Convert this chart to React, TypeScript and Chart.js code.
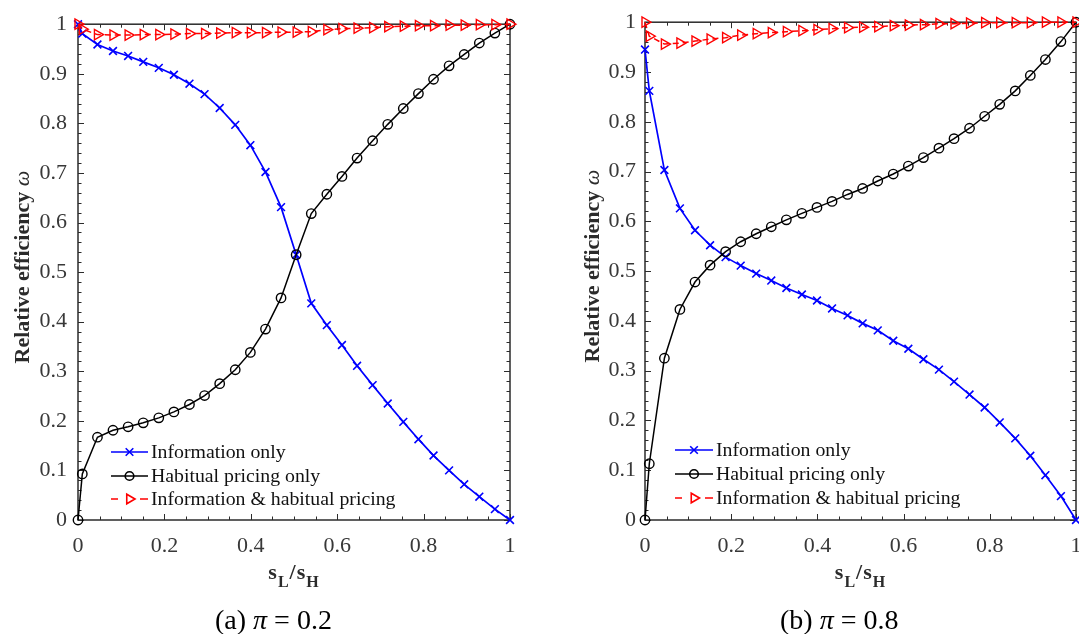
import React, { useEffect, useRef } from "react";
import { Chart, registerables } from "chart.js";

Chart.register(...registerables);

// ---------------- data ----------------
const X_VALUES = [
  0, 0.01, 0.045, 0.081, 0.116, 0.151, 0.187, 0.222, 0.258, 0.293, 0.328, 0.364, 0.399, 0.434, 0.47,
  0.505, 0.54, 0.576, 0.611, 0.646, 0.682, 0.717, 0.753, 0.788, 0.823, 0.859, 0.894, 0.929, 0.965, 1.0,
];

// (a) pi = 0.2
const INFO_A = [
  1.0, 0.981, 0.959, 0.946, 0.936, 0.924, 0.912, 0.898, 0.88, 0.859, 0.831, 0.797, 0.756, 0.702, 0.631,
  0.535, 0.437, 0.393, 0.353, 0.311, 0.272, 0.235, 0.198, 0.163, 0.13, 0.1, 0.072, 0.047, 0.022, 0,
];
const HABIT_A = [
  0, 0.093, 0.167, 0.181, 0.188, 0.196, 0.206, 0.218, 0.233, 0.251, 0.275, 0.303, 0.338, 0.385, 0.448,
  0.535, 0.618, 0.657, 0.693, 0.73, 0.765, 0.798, 0.83, 0.86, 0.889, 0.916, 0.939, 0.962, 0.982, 1.0,
];
const BOTH_A = [
  1.0, 0.99, 0.979, 0.978, 0.978, 0.979, 0.979, 0.98, 0.981, 0.981, 0.982, 0.983, 0.983, 0.983, 0.984,
  0.984, 0.985, 0.989, 0.991, 0.992, 0.993, 0.995, 0.996, 0.997, 0.997, 0.998, 0.998, 0.999, 0.999, 1.0,
];

// (b) pi = 0.8
const INFO_B = [
  0.945, 0.862, 0.703, 0.626, 0.582, 0.552, 0.528, 0.511, 0.495, 0.481, 0.466, 0.453, 0.441, 0.425, 0.411,
  0.395, 0.381, 0.36, 0.344, 0.323, 0.302, 0.278, 0.252, 0.226, 0.196, 0.164, 0.129, 0.09, 0.048, 0,
];
const HABIT_B = [
  0, 0.113, 0.325, 0.423, 0.478, 0.512, 0.539, 0.559, 0.575, 0.589, 0.603, 0.616, 0.628, 0.64, 0.654,
  0.666, 0.681, 0.695, 0.711, 0.728, 0.747, 0.766, 0.787, 0.811, 0.835, 0.862, 0.893, 0.925, 0.961, 1.0,
];
const BOTH_B = [
  1.0, 0.972, 0.956, 0.958, 0.962, 0.966, 0.969, 0.974, 0.977, 0.979, 0.981, 0.983, 0.985, 0.987, 0.989,
  0.99, 0.991, 0.993, 0.994, 0.995, 0.997, 0.997, 0.998, 0.999, 0.999, 0.999, 0.999, 1.0, 1.0, 1.0,
];

const X_TICKS = [0, 0.2, 0.4, 0.6, 0.8, 1];
const Y_TICKS = [0, 0.1, 0.2, 0.3, 0.4, 0.5, 0.6, 0.7, 0.8, 0.9, 1];
const SERIES_LABELS = ["Information only", "Habitual pricing only", "Information & habitual pricing"];
const Y_TITLE = "Relative efficiency ";
const Y_TITLE_SYMBOL = "ω";
const CAPTIONS = [
  { tag: "(a) ", value: "0.2" },
  { tag: "(b) ", value: "0.8" },
];

// ---------------- styles ----------------
const SERIF = "'Liberation Serif', 'Times New Roman', serif";
const AXIS_COLOR = "#2b2b2b";
const TICK_TEXT = "#383838";
const BLUE = "#0000ff";
const BLACK = "#000000";
const RED = "#ff0000";
const H = 634;

function drawMarker(ctx: CanvasRenderingContext2D, kind: string, x: number, y: number, r: number) {
  ctx.beginPath();
  if (kind === "cross") {
    ctx.moveTo(x - r, y - r);
    ctx.lineTo(x + r, y + r);
    ctx.moveTo(x - r, y + r);
    ctx.lineTo(x + r, y - r);
  } else if (kind === "circle") {
    ctx.arc(x, y, r, 0, Math.PI * 2);
  } else {
    ctx.moveTo(x + r, y);
    ctx.lineTo(x - r * 0.5, y - r * 0.87);
    ctx.lineTo(x - r * 0.5, y + r * 0.87);
    ctx.closePath();
  }
  ctx.stroke();
}

const decorPlugin = {
  id: "decor",
  beforeDatasetsDraw(chart: any) {
    const { ctx, chartArea: a, scales } = chart;
    const xs = scales.x;
    const ys = scales.y;
    ctx.save();
    ctx.strokeStyle = AXIS_COLOR;
    ctx.lineWidth = 1.5;
    ctx.strokeRect(a.left, a.top, a.right - a.left, a.bottom - a.top);
    ctx.lineWidth = 1;
    ctx.beginPath();
    for (let i = 0; i <= 20; i++) {
      const v = i * 0.05;
      const len = i % 4 === 0 ? 6 : 3.5;
      const px = Math.round(xs.getPixelForValue(v)) + 0.5;
      ctx.moveTo(px, a.bottom);
      ctx.lineTo(px, a.bottom - len);
      ctx.moveTo(px, a.top);
      ctx.lineTo(px, a.top + len);
    }
    for (let i = 0; i <= 50; i++) {
      const v = i * 0.02;
      const len = i % 5 === 0 ? 6 : 3.5;
      const py = Math.round(ys.getPixelForValue(v)) + 0.5;
      ctx.moveTo(a.left, py);
      ctx.lineTo(a.left + len, py);
      ctx.moveTo(a.right, py);
      ctx.lineTo(a.right - len, py);
    }
    ctx.stroke();
    ctx.restore();
  },
  afterDraw(chart: any, _args: any, opts: any) {
    const { ctx, chartArea: a } = chart;
    ctx.save();
    // legend
    const kinds = [
      { color: BLUE, marker: "cross", r: 3.8, dashed: false },
      { color: BLACK, marker: "circle", r: 4.3, dashed: false },
      { color: RED, marker: "tri", r: 5.5, dashed: true },
    ];
    ctx.font = `19.8px ${SERIF}`;
    ctx.textBaseline = "middle";
    ctx.textAlign = "left";
    kinds.forEach((k, i) => {
      const y = opts.legendRows[i];
      const x0 = opts.legendX0;
      const x1 = opts.legendX1;
      ctx.strokeStyle = k.color;
      ctx.lineWidth = 1.6;
      ctx.beginPath();
      if (k.dashed) {
        ctx.moveTo(x0, y);
        ctx.lineTo(x0 + 7, y);
        ctx.moveTo(x1 - 8, y);
        ctx.lineTo(x1, y);
      } else {
        ctx.moveTo(x0, y);
        ctx.lineTo(x1, y);
      }
      ctx.stroke();
      drawMarker(ctx, k.marker, (x0 + x1) / 2, y, k.r);
      ctx.fillStyle = "#111";
      ctx.fillText(SERIES_LABELS[i], opts.legendTextX, y + 1);
    });

    // y title
    ctx.save();
    ctx.translate(opts.yTitleBaseX, (a.top + a.bottom) / 2 - 5);
    ctx.rotate(-Math.PI / 2);
    ctx.fillStyle = AXIS_COLOR;
    ctx.textBaseline = "alphabetic";
    ctx.font = `bold 22px ${SERIF}`;
    const w1 = ctx.measureText(Y_TITLE).width;
    ctx.font = `italic 22px ${SERIF}`;
    const w2 = ctx.measureText(Y_TITLE_SYMBOL).width;
    const sx = -(w1 + w2) / 2;
    ctx.font = `bold 22px ${SERIF}`;
    ctx.fillText(Y_TITLE, sx, 0);
    ctx.font = `italic 22px ${SERIF}`;
    ctx.fillText(Y_TITLE_SYMBOL, sx + w1, 0);
    ctx.restore();

    // x title  s_L / s_H
    const parts = [
      { t: "s", f: `bold 22px ${SERIF}`, dy: 0 },
      { t: "L", f: `bold 16px ${SERIF}`, dy: 8 },
      { t: "/", f: `bold 22px ${SERIF}`, dy: 0 },
      { t: "s", f: `bold 22px ${SERIF}`, dy: 0 },
      { t: "H", f: `bold 16px ${SERIF}`, dy: 8 },
    ];
    let total = 0;
    const widths = parts.map((p) => {
      ctx.font = p.f;
      const w = ctx.measureText(p.t).width + 1;
      total += w;
      return w;
    });
    let cx = (a.left + a.right) / 2 - total / 2;
    ctx.fillStyle = AXIS_COLOR;
    ctx.textBaseline = "alphabetic";
    parts.forEach((p, i) => {
      ctx.font = p.f;
      ctx.fillText(p.t, cx, 579 + p.dy);
      cx += widths[i];
    });

    // caption
    const cap = opts.caption;
    let x = opts.captionX;
    ctx.fillStyle = "#000";
    ctx.font = `28px ${SERIF}`;
    ctx.fillText(cap.tag, x, 629);
    x += ctx.measureText(cap.tag).width;
    ctx.font = `italic 28px ${SERIF}`;
    ctx.fillText("π", x, 629);
    x += ctx.measureText("π").width;
    ctx.font = `28px ${SERIF}`;
    ctx.fillText(" = " + cap.value, x, 629);
    ctx.restore();
  },
};

type PanelProps = {
  left: number;
  width: number;
  yAxisW: number;
  plotRight: number;
  yTickPad: number;
  info: number[];
  habit: number[];
  both: number[];
  decor: any;
};

function Panel(p: PanelProps) {
  const ref = useRef<HTMLCanvasElement | null>(null);
  useEffect(() => {
    if (!ref.current) return;
    const pts = (arr: number[]) => X_VALUES.map((x, i) => ({ x, y: arr[i] }));
    const chart = new Chart(ref.current, {
      type: "line",
      data: {
        datasets: [
          {
            label: SERIES_LABELS[0],
            data: pts(p.info),
            borderColor: BLUE,
            borderWidth: 1.7,
            pointStyle: "crossRot",
            pointRadius: 5.5,
            pointBorderWidth: 1.6,
            pointBorderColor: BLUE,
            pointBackgroundColor: "rgba(0,0,0,0)",
            tension: 0,
            clip: false,
            order: 3,
          } as any,
          {
            label: SERIES_LABELS[1],
            data: pts(p.habit),
            borderColor: BLACK,
            borderWidth: 1.5,
            pointStyle: "circle",
            pointRadius: 4.7,
            pointBorderWidth: 1.4,
            pointBorderColor: BLACK,
            pointBackgroundColor: "rgba(0,0,0,0)",
            tension: 0,
            clip: false,
            order: 2,
          },
          {
            label: SERIES_LABELS[2],
            data: pts(p.both),
            borderColor: RED,
            borderWidth: 1.5,
            borderDash: [6, 4],
            pointStyle: "triangle",
            rotation: 90,
            pointRadius: 6,
            pointBorderWidth: 1.4,
            pointBorderColor: RED,
            pointBackgroundColor: "rgba(0,0,0,0)",
            tension: 0,
            clip: false,
            order: 1,
          },
        ],
      },
      options: {
        animation: false,
        responsive: false,
        devicePixelRatio: 1,
        layout: { padding: { left: 0, top: 20, right: p.width - p.plotRight, bottom: 0 } },
        plugins: {
          legend: { display: false },
          tooltip: { enabled: false },
          decor: p.decor,
        } as any,
        scales: {
          x: {
            type: "linear",
            min: 0,
            max: 1,
            grid: { display: false, drawTicks: false },
            border: { display: false },
            afterBuildTicks: (s: any) => {
              s.ticks = X_TICKS.map((v) => ({ value: v }));
            },
            afterFit: (s: any) => {
              s.height = H - 520;
            },
            ticks: {
              padding: 13,
              color: TICK_TEXT,
              font: { family: SERIF, size: 22 },
              maxRotation: 0,
              autoSkip: false,
              callback: (v: any) => String(v),
            },
          },
          y: {
            type: "linear",
            min: 0,
            max: 1,
            grid: { display: false, drawTicks: false },
            border: { display: false },
            afterBuildTicks: (s: any) => {
              s.ticks = Y_TICKS.map((v) => ({ value: v }));
            },
            afterFit: (s: any) => {
              s.width = p.yAxisW;
            },
            ticks: {
              padding: p.yTickPad,
              color: TICK_TEXT,
              font: { family: SERIF, size: 22 },
              autoSkip: false,
              callback: (v: any) => String(v),
            },
          },
        },
      },
      plugins: [decorPlugin],
    });
    return () => chart.destroy();
  }, []);
  return (
    <div style={{ position: "absolute", left: p.left, top: 0, width: p.width, height: H }}>
      <canvas ref={ref} width={p.width} height={H} style={{ display: "block" }} />
    </div>
  );
}

export default function App() {
  return (
    <div
      style={{
        position: "fixed",
        left: 0,
        top: 0,
        width: 1079,
        height: H,
        overflow: "hidden",
        background: "#fff",
      }}
    >
      <Panel
        left={0}
        width={560}
        yAxisW={78}
        plotRight={510}
        yTickPad={11}
        info={INFO_A}
        habit={HABIT_A}
        both={BOTH_A}
        decor={{
          legendX0: 111,
          legendX1: 148,
          legendTextX: 151,
          legendRows: [452, 476, 499],
          yTitleBaseX: 29,
          captionX: 215,
          caption: CAPTIONS[0],
        }}
      />
      <Panel
        left={560}
        width={540}
        yAxisW={85}
        plotRight={516}
        yTickPad={9}
        info={INFO_B}
        habit={HABIT_B}
        both={BOTH_B}
        decor={{
          legendX0: 115,
          legendX1: 153,
          legendTextX: 156,
          legendRows: [450, 474, 498],
          yTitleBaseX: 39,
          captionX: 220,
          caption: CAPTIONS[1],
        }}
      />
    </div>
  );
}
